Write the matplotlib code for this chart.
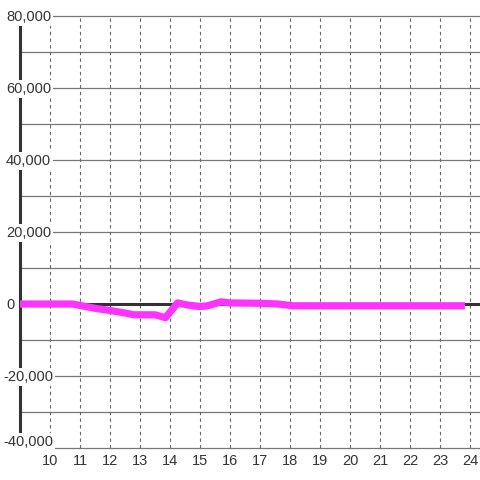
import matplotlib
matplotlib.use('Agg')
import matplotlib.pyplot as plt
import matplotlib.transforms as mtransforms

# hourly data (hour of day, value)
hours = [9.0, 10.75, 11.0, 11.5, 12.0, 12.5, 12.8, 13.0, 13.5, 13.85, 14.25, 14.6,
         15.0, 15.25, 15.7, 16.0, 17.0, 17.6, 18.1, 19.0, 20.0, 21.0, 22.0, 23.0, 23.83]
values = [0, 0, -400, -1200, -1800, -2500, -3000, -3000, -3000, -3800, 300, -300,
          -700, -500, 600, 300, 200, 0, -500, -500, -500, -500, -500, -500, -500]

# axis ticks / labels
x_ticks = list(range(10, 25))
y_grid = list(range(-40000, 80001, 10000))
y_labels = list(range(-40000, 80001, 20000))

plt.rcParams['font.family'] = ['Liberation Sans', 'DejaVu Sans']

fig = plt.figure(figsize=(4.8, 4.8), dpi=100)
ax = fig.add_axes([20 / 480, 32 / 480, 460 / 480, 432 / 480])
ax.set_xlim(9.0, 24.333)
ax.set_ylim(-40000, 80000)
ax.set_xticks([])
ax.set_yticks([])
for s in ['top', 'right', 'bottom']:
    ax.spines[s].set_visible(False)
ax.spines['left'].set_color('#333333')
ax.spines['left'].set_linewidth(2.2)

# grid
for y in y_grid:
    ax.axhline(y, color='#777777', lw=0.9, zorder=1, clip_on=False)
for h in x_ticks:
    ax.axvline(h, color='#666666', lw=0.8, linestyle=(0, (3, 3)), zorder=1)

# zero line
ax.axhline(0, color='#333333', lw=2.2, zorder=2)

# the series
ax.plot(hours, values, color='#ff33ff', lw=5.2, zorder=3,
        solid_joinstyle='round', solid_capstyle='butt')

# y labels, with white boxes over the spine
for v in y_labels:
    xpos = 3 / 480 if v < 0 else 6 / 480
    dy = 6 if v == y_labels[0] else -1   # bottom label sits above its line
    tr = mtransforms.blended_transform_factory(fig.transFigure, ax.transData) + \
        mtransforms.ScaledTranslation(0, dy / 100, fig.dpi_scale_trans)
    ax.text(xpos, v, f"{v:,}", transform=tr, ha='left', va='center',
            fontsize=10.5, color='#333333', zorder=4, clip_on=False,
            bbox=dict(facecolor='white', edgecolor='none', pad=1.5))

# x labels
xtrans = ax.transData + mtransforms.ScaledTranslation(0, -13 / 100, fig.dpi_scale_trans)
for h in x_ticks:
    ax.text(h, -40000, str(h), transform=xtrans, ha='center', va='center',
            fontsize=10.5, color='#333333', clip_on=False)

fig.savefig('out.png', dpi=100)
